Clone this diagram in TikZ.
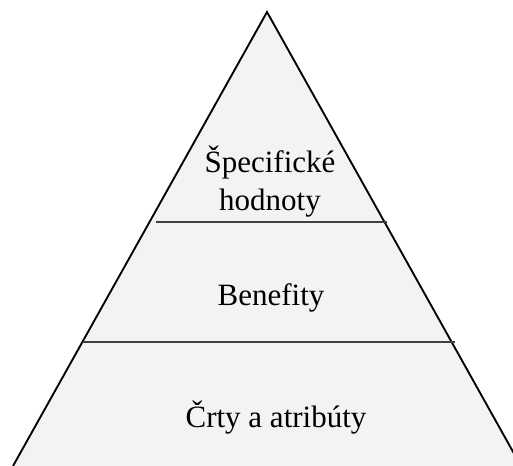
\documentclass[tikz,border=0pt]{standalone}
\usepackage{fontspec}
\setmainfont{Liberation Serif}
\definecolor{levelfill}{HTML}{F3F3F3}
\definecolor{divider}{HTML}{404040}
\tikzset{
  edge/.style={draw=black, line width=1.4pt},
  divline/.style={draw=divider, line width=1.1pt},
  label/.style={font=\fontsize{23.25pt}{28.5pt}\selectfont, text=black, inner sep=0pt, align=center}
}
\begin{document}
\begin{tikzpicture}[x=0.75pt, y=-0.75pt]
\useasboundingbox (0,0) rectangle (513,466);
\clip (0,0) rectangle (513,466);
\coordinate (apex) at (267,12);
\coordinate (bl) at (13,466);
\coordinate (br) at (521,466);
\fill[levelfill] (apex) -- (bl) -- (br) -- cycle;
\draw[edge] (bl) -- (apex) -- (br);
\coordinate (u1) at (156,222);
\coordinate (u2) at (387,222);
\coordinate (l1) at (83,342);
\coordinate (l2) at (455,342);
\draw[divline] (u1) -- (u2);
\draw[divline] (l1) -- (l2);
\node[label, anchor=base] (top) at (270,211) {Špecifické\\hodnoty};
\node[label, anchor=base] (mid) at (271,305) {Benefity};
\node[label, anchor=base] (bot) at (276,427) {Črty a atribúty};
\end{tikzpicture}
\end{document}
